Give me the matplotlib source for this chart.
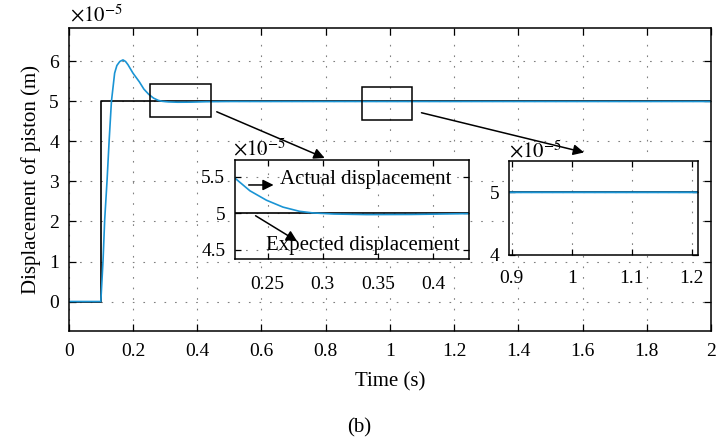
import matplotlib
matplotlib.use("Agg")
import matplotlib.pyplot as plt
import numpy as np

plt.rcParams['font.family'] = ['Liberation Serif', 'DejaVu Serif']
plt.rcParams['mathtext.fontset'] = 'stix'

# --- Data (displacement in units of 1e-5 m) ---
t_expected = [0, 0.1, 0.1, 2.0]
x_expected = [0, 0, 5, 5]

t_actual = [0, 0.1, 0.107, 0.112, 0.1195, 0.126, 0.133, 0.143, 0.15, 0.159, 0.169,
            0.177, 0.1845, 0.2, 0.21, 0.22, 0.234, 0.249, 0.264, 0.279, 0.291,
            0.31, 0.34, 0.38, 0.43, 0.5, 0.7, 1.0, 2.0]
x_actual = [0, 0, 1.04, 2.04, 3.04, 4.04, 5.0, 5.71, 5.9, 6.0, 6.04,
            6.0, 5.92, 5.71, 5.6, 5.49, 5.31, 5.18, 5.085, 5.027, 5.005,
            4.99, 4.982, 4.984, 4.995, 5.0, 5.0, 5.0, 5.0]

main_xticks = [0, 0.2, 0.4, 0.6, 0.8, 1.0, 1.2, 1.4, 1.6, 1.8, 2.0]
main_xlabels = ['0', '0.2', '0.4', '0.6', '0.8', '1', '1.2', '1.4', '1.6', '1.8', '2']
main_yticks = [0, 1, 2, 3, 4, 5, 6]

zoom1_xticks = [0.25, 0.3, 0.35, 0.4]
zoom1_xlabels = ['0.25', '0.3', '0.35', '0.4']
zoom1_yticks = [4.5, 5, 5.5]
zoom1_ylabels = ['4.5', '5', '5.5']
zoom2_xticks = [0.9, 1.0, 1.1, 1.2]
zoom2_xlabels = ['0.9', '1', '1.1', '1.2']
zoom2_yticks = [4, 5]

blue = '#1a94d4'
grid_kw = dict(color='#808080', linestyle=(0, (1.5, 8)), linewidth=0.8)


def style_axes(ax, size, pad_x, pad_y, length):
    ax.tick_params(direction='in', top=True, right=True, length=length,
                   width=0.9, labelsize=size)
    ax.tick_params(axis='x', pad=pad_x)
    ax.tick_params(axis='y', pad=pad_y)
    for s in ax.spines.values():
        s.set_linewidth(1.1)
    ax.grid(True, **grid_kw)
    ax.set_axisbelow(True)


fig = plt.figure(figsize=(7.18, 4.42), dpi=100)

# --- Main axes ---
ax = fig.add_axes([0.0957, 0.2518, 0.8946, 0.6842])
ax.plot(t_expected, x_expected, color='black', lw=1.2)
ax.plot(t_actual, x_actual, color=blue, lw=1.2)
ax.set_xlim(0, 2)
ax.set_ylim(-0.73, 6.83)
ax.set_xticks(main_xticks)
ax.set_xticklabels(main_xlabels)
ax.set_yticks(main_yticks)
style_axes(ax, 14, 9, 7, 5)
ax.set_xlabel('Time (s)', fontsize=15, labelpad=9)
ax.set_ylabel('Displacement of piston (m)', fontsize=15, labelpad=6)

# zoom boxes
ax.add_patch(plt.Rectangle((0.254, 4.61), 0.189, 0.83, fill=False, ec='black', lw=1.1, zorder=5))
ax.add_patch(plt.Rectangle((0.912, 4.525), 0.158, 0.835, fill=False, ec='black', lw=1.1, zorder=5))
arrow_kw = dict(arrowstyle='-|>', color='black', lw=1.1, mutation_scale=16)
ax.annotate('', xy=(0.805, 3.56), xytext=(0.453, 4.77),
            arrowprops=arrow_kw, annotation_clip=False)
ax.annotate('', xy=(1.613, 3.71), xytext=(1.09, 4.735),
            arrowprops=arrow_kw, annotation_clip=False)

fig.text(70 / 718, 1 - 21 / 442, r'$\times10^{-5}$', fontsize=15, va='baseline', ha='left')

# --- Inset 1 ---
ax1 = fig.add_axes([0.3273, 0.414, 0.3263, 0.224])
ax1.plot(t_expected, x_expected, color='black', lw=1.2)
ax1.plot(t_actual, x_actual, color=blue, lw=1.2)
ax1.set_xlim(0.2205, 0.4328)
ax1.set_ylim(4.37, 5.734)
ax1.set_xticks(zoom1_xticks)
ax1.set_xticklabels(zoom1_xlabels)
ax1.set_yticks(zoom1_yticks)
ax1.set_yticklabels(zoom1_ylabels)
style_axes(ax1, 14, 12, 7, 4)
ax1.annotate('', xy=(0.258, 5.39), xytext=(0.2304, 5.39), arrowprops=arrow_kw)
ax1.text(0.261, 5.46, 'Actual displacement', fontsize=15, ha='left', va='center')
ax1.annotate('', xy=(0.279, 4.595), xytext=(0.237, 4.986), arrowprops=arrow_kw)
ax1.text(0.2485, 4.56, 'Expected displacement', fontsize=15, ha='left', va='center')
fig.text(233 / 718, 1 - 155 / 442, r'$\times10^{-5}$', fontsize=15, va='baseline', ha='left')

# --- Inset 2 ---
ax2 = fig.add_axes([0.7093, 0.4231, 0.2624, 0.2127])
ax2.plot(t_expected, x_expected, color='black', lw=1.2)
ax2.plot(t_actual, x_actual, color=blue, lw=1.4)
ax2.set_xlim(0.896, 1.21)
ax2.set_ylim(4, 5.5)
ax2.set_xticks(zoom2_xticks)
ax2.set_xticklabels(zoom2_xlabels)
ax2.set_yticks(zoom2_yticks)
style_axes(ax2, 14, 11, 7, 4)
fig.text(509 / 718, 1 - 157 / 442, r'$\times10^{-5}$', fontsize=15, va='baseline', ha='left')

fig.text(0.5, 1 - 428 / 442, '(b)', fontsize=15, ha='center', va='center')

fig.savefig('out.png', dpi=100)
